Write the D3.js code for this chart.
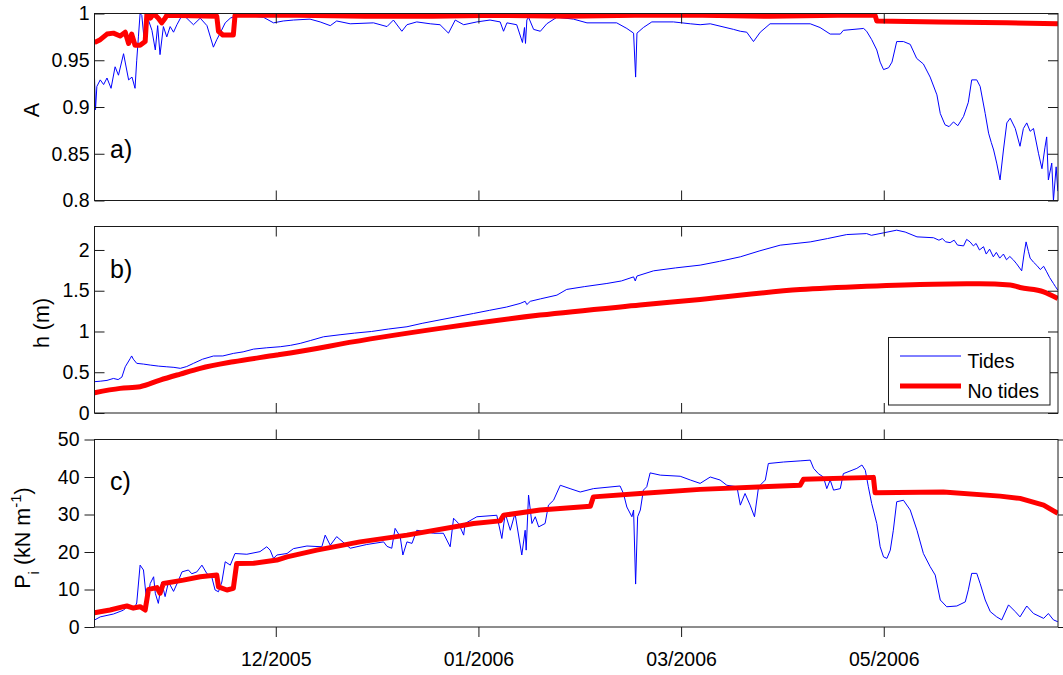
<!DOCTYPE html>
<html>
<head>
<meta charset="utf-8">
<script src="https://cdn.jsdelivr.net/npm/d3@7"></script>
<style>
  html, body { margin: 0; padding: 0; background: #fff; }
  svg { display: block; font-family: "Liberation Sans", Arial, Helvetica, sans-serif; }
</style>
</head>
<body>
<svg id="chart" width="1063" height="675"></svg>
<script>
// ---- time axis: days counted from 2005-10-08 08:00 ----
const startDate = new Date(2005, 9, 8, 8);
const endDay = 285.25;
const tickDates = ["2005-12-01", "2006-01-30", "2006-03-31", "2006-05-30"];

// ---- legend ----
const seriesNames = ["Tides", "No tides"];

// ---- panel a: A ----
const aTicks = [0.8, 0.85, 0.9, 0.95, 1];
const aTidesDay = [0, 0.3, 0.7, 1.7, 2.7, 3.7, 4.9, 6.1, 7.1, 8.6, 10.1, 11.1, 12.0, 12.5, 13.0, 13.5, 14.0, 14.7, 15.5, 17.0, 18.0, 18.7, 19.4, 20.4, 21.4, 22.4, 23.4, 24.4, 25.9, 27.3, 29.3, 31.3, 33.3, 35.2, 36.2, 37.2, 38.7, 40.2, 42.1, 47.1, 50.0, 53.0, 55.9, 58.9, 63.8, 66.8, 69.8, 71.7, 75.7, 82.6, 86.6, 88.5, 91.0, 92.5, 95.4, 99.4, 102.3, 104.8, 106.8, 109.3, 113.2, 117.1, 120.1, 121.1, 122.1, 125.0, 126.7, 127.3, 127.6, 128.0, 128.5, 130.0, 132.0, 133.9, 136.9, 141.8, 145.8, 154.6, 157.6, 159.6, 160.2, 160.6, 162.5, 165.0, 171.4, 176.4, 179.3, 182.3, 189.2, 191.2, 193.1, 195.1, 197.1, 200.0, 211.9, 214.8, 217.8, 220.8, 221.7, 227.7, 228.6, 230.1, 231.6, 232.6, 233.6, 235.1, 236.1, 237.5, 239.5, 241.5, 243.4, 245.4, 247.4, 249.4, 250.4, 251.8, 253.0, 254.3, 255.6, 257.3, 258.7, 259.7, 261.2, 262.2, 263.7, 264.7, 265.5, 266.2, 267.1, 268.1, 269.1, 270.1, 271.1, 272.6, 274.0, 275.0, 276.0, 277.0, 278.0, 279.5, 280.5, 281.4, 281.9, 282.4, 283.4, 283.9, 284.7, 285.2];
const aTidesVal = [0.931, 0.897, 0.922, 0.929, 0.924, 0.931, 0.920, 0.943, 0.934, 0.957, 0.929, 0.932, 0.920, 0.950, 0.975, 1.0, 0.998, 0.972, 0.998, 0.982, 0.961, 0.987, 0.956, 0.986, 0.975, 0.986, 0.980, 0.988, 0.998, 0.995, 0.988, 0.995, 0.987, 0.964, 0.972, 0.979, 0.990, 0.995, 0.998, 0.997, 0.996, 0.990, 0.992, 0.993, 0.994, 0.991, 0.987, 0.992, 0.989, 0.990, 0.986, 0.993, 0.981, 0.988, 0.991, 0.989, 0.988, 0.979, 0.993, 0.988, 0.991, 0.993, 0.991, 0.981, 0.990, 0.988, 0.969, 0.985, 0.968, 0.993, 0.996, 0.983, 0.981, 0.989, 0.996, 0.994, 0.990, 0.990, 0.984, 0.979, 0.932, 0.979, 0.985, 0.991, 0.991, 0.989, 0.988, 0.989, 0.983, 0.981, 0.980, 0.970, 0.980, 0.989, 0.989, 0.985, 0.978, 0.978, 0.982, 0.984, 0.981, 0.972, 0.961, 0.948, 0.940, 0.942, 0.948, 0.970, 0.970, 0.967, 0.952, 0.946, 0.932, 0.913, 0.893, 0.881, 0.879, 0.884, 0.880, 0.890, 0.905, 0.929, 0.929, 0.922, 0.893, 0.872, 0.862, 0.854, 0.840, 0.822, 0.854, 0.883, 0.888, 0.877, 0.858, 0.877, 0.883, 0.874, 0.877, 0.850, 0.834, 0.857, 0.868, 0.822, 0.840, 0.800, 0.836, 0.810];
const aNoTidesDay = [0, 1.7, 3.7, 5.6, 7.6, 9.1, 10.1, 11.0, 12.0, 13.5, 15.0, 15.5, 16.5, 17.5, 18.9, 19.9, 20.9, 21.4, 36.2, 36.7, 38.0, 41.1, 41.6, 60, 80, 100, 120, 140, 160, 180, 200, 220, 231.1, 231.6, 250, 270, 285.2];
const aNoTidesVal = [0.969, 0.972, 0.978, 0.979, 0.976, 0.980, 0.968, 0.978, 0.966, 0.966, 0.970, 0.999, 0.995, 1.0, 0.995, 0.990, 0.995, 0.998, 0.997, 0.981, 0.977, 0.977, 0.998, 0.998, 0.997, 0.997, 0.998, 0.997, 0.998, 0.998, 0.997, 0.998, 0.998, 0.992, 0.991, 0.990, 0.989];

// ---- panel b: h (m) ----
const bTicks = [0, 0.5, 1, 1.5, 2];
const bTidesDay = [0, 1.7, 3.7, 5.6, 7.0, 8.1, 9.1, 10.6, 11.0, 11.5, 12.5, 14.5, 16.5, 19, 21.4, 23.5, 25.4, 27.3, 29.3, 32, 35.2, 38, 41.1, 44, 47.1, 51, 55.0, 58, 60.9, 64, 67.8, 72.7, 77, 82, 87, 92.5, 97, 102, 107, 112.2, 117, 122, 126.0, 127.5, 128.0, 129, 132, 136.9, 139.8, 145, 151.7, 156, 159.6, 160.1, 160.6, 165.5, 172, 179.3, 185, 191.2, 197, 203.0, 211.9, 217, 222.7, 228.6, 230, 233.6, 237.5, 240, 243.5, 248.4, 250, 251, 252, 253.3, 254.5, 255.5, 257.3, 258.2, 259.2, 260.2, 261, 262, 263.2, 264, 265, 266.1, 267, 268, 269.1, 270, 271, 272.1, 273, 274.5, 275.2, 275.8, 276.5, 277.0, 278, 279.0, 280, 281, 281.9, 282.8, 283.9, 284.5, 285.2];
const bTidesVal = [0.384, 0.39, 0.40, 0.424, 0.41, 0.44, 0.567, 0.670, 0.70, 0.66, 0.609, 0.60, 0.588, 0.575, 0.567, 0.56, 0.548, 0.57, 0.609, 0.66, 0.699, 0.70, 0.731, 0.75, 0.784, 0.80, 0.813, 0.83, 0.854, 0.89, 0.935, 0.96, 0.98, 1.0, 1.03, 1.058, 1.10, 1.14, 1.18, 1.221, 1.26, 1.30, 1.344, 1.37, 1.33, 1.37, 1.40, 1.446, 1.516, 1.55, 1.589, 1.62, 1.670, 1.62, 1.68, 1.744, 1.78, 1.814, 1.86, 1.916, 1.99, 2.059, 2.099, 2.14, 2.189, 2.201, 2.18, 2.21, 2.243, 2.22, 2.161, 2.15, 2.12, 2.14, 2.10, 2.09, 2.12, 2.06, 2.05, 2.13, 2.10, 2.05, 2.08, 2.00, 2.04, 1.95, 2.01, 1.916, 1.97, 1.90, 1.95, 1.88, 1.92, 1.875, 1.83, 1.744, 1.95, 2.099, 1.98, 1.90, 1.85, 1.81, 1.76, 1.80, 1.732, 1.66, 1.589, 1.55, 1.507];
const bNoTidesDay = [0, 7.6, 13.5, 19.4, 25.4, 31.3, 41.1, 54.0, 65.8, 72.7, 102.3, 131.9, 161.5, 179.3, 208.9, 228.6, 248.4, 262, 271.1, 274.0, 281.0, 285.2];
const bNoTidesVal = [0.249, 0.302, 0.323, 0.404, 0.478, 0.548, 0.629, 0.711, 0.792, 0.845, 1.038, 1.201, 1.324, 1.393, 1.515, 1.556, 1.581, 1.585, 1.57, 1.540, 1.487, 1.405];

// ---- panel c: P_i (kN m^-1) ----
const cTicks = [0, 10, 20, 30, 40, 50];
const cTidesDay = [0, 1.7, 5.6, 8.6, 10.1, 11.5, 12.5, 13.5, 14.5, 15.5, 16.5, 17.5, 18.0, 18.9, 19.9, 20.9, 21.9, 23.4, 24.9, 25.9, 27.8, 28.8, 30.3, 31.8, 33.3, 34.7, 35.7, 36.7, 37.7, 38.7, 40.2, 41.6, 45.1, 49.0, 51.0, 52.0, 53.0, 54.0, 57.0, 58.9, 62.9, 67.3, 68.3, 69.8, 71.7, 75.7, 80.6, 85.6, 86.6, 88.0, 89.0, 90.5, 91.3, 92.5, 94.0, 95.4, 100.4, 103.3, 105.3, 106.3, 107.8, 109.3, 109.7, 113.2, 119.1, 120.6, 121.6, 123.1, 124.5, 126.5, 127.5, 127.8, 128.5, 129.5, 130.5, 131.5, 133.4, 134.4, 135.9, 137.9, 140.8, 143.8, 147.7, 155.6, 156.6, 157.6, 159.1, 159.6, 160.2, 160.8, 161.6, 162.5, 163.5, 164.5, 167.5, 173.4, 176.4, 179.3, 182.3, 185.2, 187.2, 190.2, 191.2, 192.6, 194.1, 195.4, 196.6, 198.6, 199.5, 204.0, 208.9, 211.9, 212.9, 214.3, 215.8, 216.8, 217.8, 218.8, 220.8, 221.7, 225.7, 227.2, 228.2, 229.1, 230.1, 231.6, 232.6, 233.6, 234.6, 235.6, 236.5, 237.5, 239.5, 241.5, 243.5, 245.4, 247.4, 248.9, 250.4, 252.3, 255.3, 257.8, 258.7, 259.7, 261.2, 262.2, 263.7, 265.2, 267.1, 268.6, 270.6, 272.6, 274.0, 276.0, 278.0, 281.0, 282.4, 283.9, 285.2];
const cTidesVal = [1.86, 2.7, 3.46, 4.5, 5.86, 4.5, 6.4, 16.5, 15.2, 6.3, 11.6, 13.4, 9.0, 6.3, 12.0, 8.1, 12.0, 9.5, 12.5, 14.7, 15.2, 14.2, 14.7, 16.5, 14.2, 13.4, 9.86, 9.4, 12.0, 17.4, 16.5, 19.6, 19.4, 20.1, 21.4, 20.5, 18.3, 19.2, 19.6, 20.9, 21.6, 21.4, 24.5, 21.8, 24.1, 21.0, 22.0, 22.7, 21.5, 21.0, 26.3, 24.1, 19.2, 22.7, 22.3, 25.8, 25.0, 25.0, 21.4, 29.0, 27.6, 24.5, 27.6, 29.4, 29.8, 23.6, 30.3, 25.8, 30.3, 19.2, 25.8, 20.5, 35.2, 27.6, 29.4, 26.7, 27.6, 32.5, 33.8, 37.8, 36.9, 36.0, 36.9, 37.6, 35.6, 32.0, 29.4, 31.2, 11.45, 29.4, 31.2, 36.5, 37.4, 41.1, 40.5, 40.2, 39.2, 38.3, 40.0, 39.2, 37.8, 37.4, 32.5, 35.6, 32.5, 29.4, 37.4, 39.2, 43.6, 44.0, 44.3, 44.5, 42.3, 40.9, 40.0, 36.9, 39.2, 36.5, 36.9, 40.9, 42.3, 43.2, 41.8, 37.4, 32.9, 27.6, 21.4, 18.7, 18.3, 20.5, 25.8, 33.4, 33.8, 31.2, 25.8, 19.6, 16.1, 13.85, 7.2, 5.4, 5.6, 6.7, 9.9, 14.3, 14.3, 11.6, 7.2, 4.1, 2.7, 1.9, 5.9, 4.1, 2.7, 5.6, 3.6, 2.3, 3.6, 1.9, 1.4];
const cNoTidesDay = [0, 4.6, 8.6, 9.6, 11.5, 13.5, 15.0, 16.0, 18.5, 19.4, 20.4, 26.3, 31.3, 36.2, 36.7, 39.2, 41.1, 42.1, 47.1, 54.0, 57.0, 65.8, 78.6, 92.5, 112.2, 120.1, 121.1, 131.9, 146.8, 147.7, 161.5, 179.3, 208.9, 209.9, 230.6, 231.1, 251.3, 268.1, 274.0, 281.0, 285.2];
const cNoTidesVal = [3.82, 4.53, 5.42, 5.6, 5.06, 5.42, 4.53, 10.03, 10.5, 8.97, 11.6, 12.5, 13.4, 13.85, 10.7, 9.86, 10.3, 16.96, 17.0, 17.85, 18.7, 20.5, 22.7, 24.5, 27.6, 28.3, 29.8, 31.2, 32.2, 34.7, 35.6, 36.7, 37.8, 39.4, 39.9, 35.8, 36.0, 34.9, 34.3, 32.5, 30.3];

// ---- drawing ----
const svg = d3.select("#chart");
const plotLeft = 94.5, plotRight = 1058;
const axisColor = "#1a1a1a";
const tidesColor = "#0000ff", noTidesColor = "#ff0000";
const tickFont = "19.5px";

const dayToDate = d => new Date(startDate.getTime() + d * 864e5);
const parseDay = d3.timeParse("%Y-%m-%d");

const x = d3.scaleTime()
  .domain([startDate, dayToDate(endDay)])
  .range([plotLeft, plotRight]);

const zip = (days, vals) => days.map((d, i) => [d, vals[i]]);

const panels = [
  { id: "a", top: 13.5, bottom: 200.5, domain: [0.8, 1], ticks: aTicks, out: false, smooth: false,
    tides: zip(aTidesDay, aTidesVal), noTides: zip(aNoTidesDay, aNoTidesVal), tag: "a)", tagY: 158 },
  { id: "b", top: 226.5, bottom: 413, domain: [0, 2.288], ticks: bTicks, out: false, smooth: true,
    tides: zip(bTidesDay, bTidesVal), noTides: zip(bNoTidesDay, bNoTidesVal), tag: "b)", tagY: 277.5 },
  { id: "c", top: 439.5, bottom: 627, domain: [0, 50], ticks: cTicks, out: true, smooth: false,
    tides: zip(cTidesDay, cTidesVal), noTides: zip(cNoTidesDay, cNoTidesVal), tag: "c)", tagY: 490 }
];

const xTicks = tickDates.map(parseDay);

panels.forEach(p => {
  const y = d3.scaleLinear().domain(p.domain).range([p.bottom, p.top]);
  const g = svg.append("g");
  const tick = p.out ? 10 : -10;

  const clipId = "clip-" + p.id;
  svg.append("defs").append("clipPath").attr("id", clipId)
    .append("rect")
    .attr("x", plotLeft).attr("y", p.top)
    .attr("width", plotRight - plotLeft).attr("height", p.bottom - p.top);

  const line = d3.line()
    .x(d => x(dayToDate(d[0])))
    .y(d => y(d[1]));
  const redLine = d3.line()
    .x(d => x(dayToDate(d[0])))
    .y(d => y(d[1]))
    .curve(p.smooth ? d3.curveMonotoneX : d3.curveLinear);

  const data = g.append("g").attr("clip-path", `url(#${clipId})`);
  data.append("path").datum(p.tides)
    .attr("d", line).attr("fill", "none")
    .attr("stroke", tidesColor).attr("stroke-width", 1)
    .attr("stroke-linejoin", "round");
  data.append("path").datum(p.noTides)
    .attr("d", redLine).attr("fill", "none")
    .attr("stroke", noTidesColor).attr("stroke-width", 5)
    .attr("stroke-linejoin", "round").attr("stroke-linecap", "butt");

  // axes with ticks on all four sides
  const left = d3.axisLeft(y).tickValues(p.ticks).tickSizeInner(tick).tickSizeOuter(0)
    .tickPadding(5).tickFormat(d => String(d));
  const right = d3.axisRight(y).tickValues(p.ticks).tickSizeInner(tick).tickSizeOuter(0)
    .tickFormat("");
  const bottom = d3.axisBottom(x).tickValues(xTicks).tickSizeInner(tick).tickSizeOuter(0)
    .tickPadding(15).tickFormat(p.out ? d3.timeFormat("%m/%Y") : "");
  const top = d3.axisTop(x).tickValues(xTicks).tickSizeInner(tick).tickSizeOuter(0)
    .tickFormat("");

  const axes = [
    g.append("g").attr("transform", `translate(${plotLeft},0)`).call(left),
    g.append("g").attr("transform", `translate(${plotRight},0)`).call(right),
    g.append("g").attr("transform", `translate(0,${p.bottom})`).call(bottom),
    g.append("g").attr("transform", `translate(0,${p.top})`).call(top)
  ];
  axes.forEach(a => {
    a.select(".domain").remove();
    a.selectAll(".tick line").attr("stroke", axisColor);
    a.selectAll(".tick text").attr("fill", "#000")
      .style("font-size", tickFont)
      .style("font-family", '"Liberation Sans", Arial, Helvetica, sans-serif');
  });

  g.append("rect")
    .attr("x", plotLeft).attr("y", p.top)
    .attr("width", plotRight - plotLeft).attr("height", p.bottom - p.top)
    .attr("fill", "none").attr("stroke", axisColor).attr("stroke-width", 1);

  g.append("text")
    .attr("x", 110).attr("y", p.tagY)
    .style("font-size", "25px").attr("fill", "#000")
    .text(p.tag);
});

// y-axis titles
const yTitle = (xPos, yPos) => svg.append("text")
  .attr("transform", `translate(${xPos},${yPos}) rotate(-90)`)
  .attr("text-anchor", "middle")
  .style("font-size", "21.5px").attr("fill", "#000");

yTitle(38.5, 110).text("A");
yTitle(48.5, 323).text("h (m)");
const pt = yTitle(30, 538);
pt.append("tspan").text("P");
pt.append("tspan").attr("dy", 9).style("font-size", "15px").text("i");
pt.append("tspan").attr("dy", -9).text(" (kN m");
pt.append("tspan").attr("dy", -9).style("font-size", "15px").text("-1");
pt.append("tspan").attr("dy", 9).text(")");

// legend in panel b
const lg = svg.append("g");
lg.append("rect")
  .attr("x", 888.5).attr("y", 337.5).attr("width", 161.5).attr("height", 67.5)
  .attr("fill", "#fff").attr("stroke", axisColor);
const legendRows = [
  { name: seriesNames[0], color: tidesColor, width: 1, ly: 356, ty: 367.5 },
  { name: seriesNames[1], color: noTidesColor, width: 5, ly: 386, ty: 398 }
];
legendRows.forEach(r => {
  lg.append("line").attr("x1", 900).attr("x2", 961).attr("y1", r.ly).attr("y2", r.ly)
    .attr("stroke", r.color).attr("stroke-width", r.width);
  lg.append("text").attr("x", 967.5).attr("y", r.ty)
    .style("font-size", tickFont).attr("fill", "#000").text(r.name);
});
</script>
</body>
</html>
